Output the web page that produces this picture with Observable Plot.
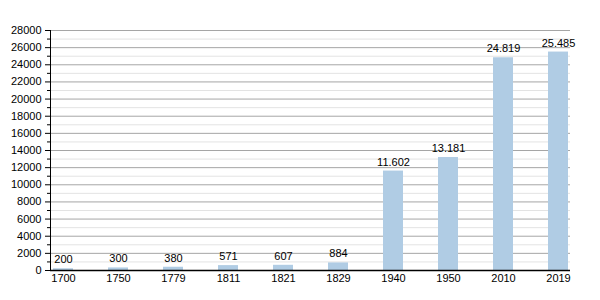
<!DOCTYPE html>
<html>
<head>
<meta charset="utf-8">
<script src="https://cdn.jsdelivr.net/npm/d3@7"></script>
<script src="https://cdn.jsdelivr.net/npm/@observablehq/plot@0.6"></script>
<style>
  body { margin: 0; background: #fff; }
</style>
</head>
<body>
<div id="chart"></div>
<script>
const years = ["1700","1750","1779","1811","1821","1829","1940","1950","2010","2019"];
const values = [200,300,380,571,607,884,11602,13181,24819,25485];
const yMajorTicks = d3.range(0, 28001, 2000);
const yMinorTicks = d3.range(1000, 28000, 2000);

const data = years.map((y, i) => ({year: y, value: values[i]}));
const de = d3.formatLocale({decimal: ",", thousands: ".", grouping: [3], currency: ["", "€"]});
const fmt = de.format(",d");

const chart = Plot.plot({
  width: 600,
  height: 300,
  marginLeft: 50,
  marginRight: 30,
  marginTop: 30,
  marginBottom: 30,
  style: {fontFamily: "'Liberation Sans', Arial, sans-serif", fontSize: "11px", color: "#000", background: "#fff"},
  x: {domain: years, paddingInner: 0.64, paddingOuter: 0, axis: null},
  y: {domain: [0, 28000], axis: null},
  marks: [
    Plot.ruleY(yMinorTicks, {stroke: "#e3e3e3", strokeOpacity: 1}),
    Plot.ruleY(yMajorTicks.slice(1), {stroke: "#a6a6a6", strokeOpacity: 1}),
    Plot.barY(data, {x: "year", y: "value", fill: "#b0cce4"}),
    Plot.text(data, {x: "year", y: "value", text: d => fmt(d.value), dy: -9, fill: "#000", fontSize: 11}),
    Plot.axisY({ticks: yMinorTicks, tickSize: 3, tickFormat: () => "", label: null, stroke: "#000", strokeOpacity: 1}),
    Plot.axisY({ticks: yMajorTicks, tickSize: 5, tickPadding: 4, tickFormat: d => String(d), label: null, stroke: "#000", strokeOpacity: 1, fill: "#000", fontSize: 11}),
    Plot.axisX({tickSize: 0, tickPadding: 4, label: null, fill: "#000", fontSize: 11}),
    Plot.frame({anchor: "left", stroke: "#000", strokeOpacity: 1}),
    Plot.ruleY([0], {stroke: "#000", strokeWidth: 1.5})
  ]
});
document.getElementById("chart").appendChild(chart);
</script>
</body>
</html>
